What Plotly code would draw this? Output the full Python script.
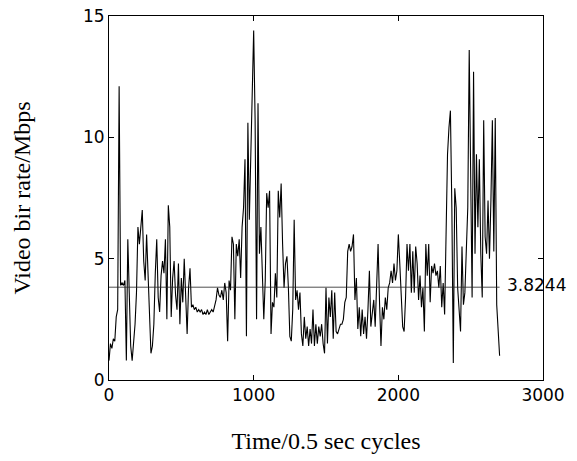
import plotly.graph_objects as go

# Time axis: 0.5 s cycles, one reading every 10 cycles
cycles = list(range(0, 2710, 10))

# Video bit rate (Mbps)
rate = [
    0.8, 1.5, 1.3, 1.7, 1.6, 2.6, 2.9, 12.1, 3.9, 4.0,
    3.9, 4.1, 0.8, 5.8, 3.6, 1.4, 0.8, 1.5, 2.3, 3.6,
    6.3, 5.6, 6.3, 7.0, 4.9, 4.1, 6.0, 4.1, 2.4, 1.1,
    1.4, 2.3, 4.4, 5.8, 3.4, 2.8, 4.3, 4.9, 4.4, 5.8,
    2.5, 7.2, 6.3, 2.6, 4.2, 4.9, 3.5, 2.9, 4.8, 2.3,
    4.2, 3.2, 5.0, 3.3, 1.9, 3.8, 4.6, 3.0, 3.1, 2.9,
    3.0, 2.8, 2.9, 2.8, 2.9, 2.7, 2.8, 2.7, 2.9, 2.7,
    2.8, 2.9, 2.8, 3.1, 3.3, 3.8, 3.5, 3.4, 3.7, 3.3,
    4.0, 3.6, 1.6, 4.1, 3.7, 5.9, 5.6, 2.5, 5.6, 5.1,
    5.8, 4.2, 6.3, 7.1, 9.1, 1.8, 10.6, 6.6, 9.1, 12.1,
    14.4, 10.7, 2.5, 11.4, 5.2, 6.3, 4.0, 2.5, 4.1, 7.7,
    7.1, 7.8, 1.9, 3.2, 3.0, 4.4, 3.4, 7.8, 6.7, 8.1,
    5.6, 3.8, 4.8, 5.1, 3.8, 1.8, 1.6, 2.9, 6.6, 3.3,
    3.7, 2.9, 3.6, 1.9, 1.4, 2.6, 1.7, 2.2, 1.4, 2.1,
    1.5, 2.9, 1.4, 2.3, 1.5, 2.2, 1.8, 2.3, 1.5, 1.1,
    3.8, 1.5, 3.4, 2.6, 3.7, 1.7, 3.6, 2.0, 1.9, 2.1,
    2.3, 2.3, 2.5, 3.2, 3.4, 5.3, 5.6, 5.3, 5.5, 6.0,
    3.3, 4.2, 2.1, 3.0, 1.8, 2.9, 1.9, 2.6, 1.7, 2.9,
    4.5, 2.2, 2.9, 3.3, 2.2, 3.7, 5.6, 3.2, 1.4, 3.0,
    2.5, 3.4, 2.9, 3.8, 4.0, 4.5, 4.0, 4.8, 4.1, 4.5,
    6.0, 4.8, 3.1, 2.2, 2.0, 3.4, 5.6, 4.5, 5.6, 3.6,
    5.3, 3.6, 5.5, 4.8, 3.3, 4.3, 3.0, 3.8, 2.0, 5.6,
    4.3, 5.6, 3.2, 4.7, 4.4, 4.8, 4.3, 4.5, 3.8, 4.7,
    3.0, 4.0, 2.7, 6.6, 9.3, 10.4, 11.1, 7.1, 0.7, 7.9,
    7.1, 3.8, 2.8, 2.0, 5.5, 3.1, 3.6, 5.2, 7.1, 13.6,
    9.3, 3.4, 12.7, 5.2, 9.3, 6.3, 9.1, 5.2, 3.4, 10.7,
    5.9, 5.2, 7.4, 5.0, 7.4, 10.7, 5.3, 10.8, 3.1, 2.2,
    1.0,
]

mean_rate = 3.8244

x_ticks = [0, 1000, 2000, 3000]
y_ticks = [0, 5, 10, 15]

sans = "DejaVu Sans, Verdana, sans-serif"
serif = "Liberation Serif, Times New Roman, serif"

fig = go.Figure()
fig.add_trace(go.Scatter(
    x=cycles, y=rate, mode="lines",
    line=dict(color="black", width=1.1),
    hoverinfo="skip",
))
fig.add_trace(go.Scatter(
    x=[cycles[0], cycles[-1]], y=[mean_rate, mean_rate], mode="lines",
    line=dict(color="#222222", width=0.8),
    hoverinfo="skip",
))
fig.add_annotation(
    x=cycles[-1], y=mean_rate, text=f"{mean_rate}",
    showarrow=False, xanchor="left", yanchor="middle", xshift=5, yshift=2,
    font=dict(family=sans, size=17, color="black"),
)

axis_common = dict(
    showline=True, linecolor="black", linewidth=1, mirror="ticks",
    ticks="inside", ticklen=5, tickwidth=1, tickcolor="black",
    showgrid=False, zeroline=False, ticklabeloverflow="allow",
    tickfont=dict(family=sans, size=17, color="black"),
)

fig.update_xaxes(
    range=[0, 3000], tickvals=x_ticks, ticktext=[str(v) for v in x_ticks],
    title=dict(text="Time/0.5 sec cycles", font=dict(family=serif, size=24, color="black"), standoff=27),
    **axis_common,
)
fig.update_yaxes(
    range=[0, 15], tickvals=y_ticks, ticktext=[str(v) for v in y_ticks],
    title=dict(text="Video bir rate/Mbps", font=dict(family=serif, size=24, color="black"), standoff=45),
    **axis_common,
)

fig.update_layout(
    width=577, height=461,
    margin=dict(l=109, r=34, t=16, b=81, autoexpand=False),
    plot_bgcolor="white", paper_bgcolor="white",
    showlegend=False,
)

# remove the page's default body margin so the figure fills the window exactly
fig.write_html(
    "out.html",
    config={"displayModeBar": False, "staticPlot": True},
    post_script="document.body.style.margin='0px';",
)
